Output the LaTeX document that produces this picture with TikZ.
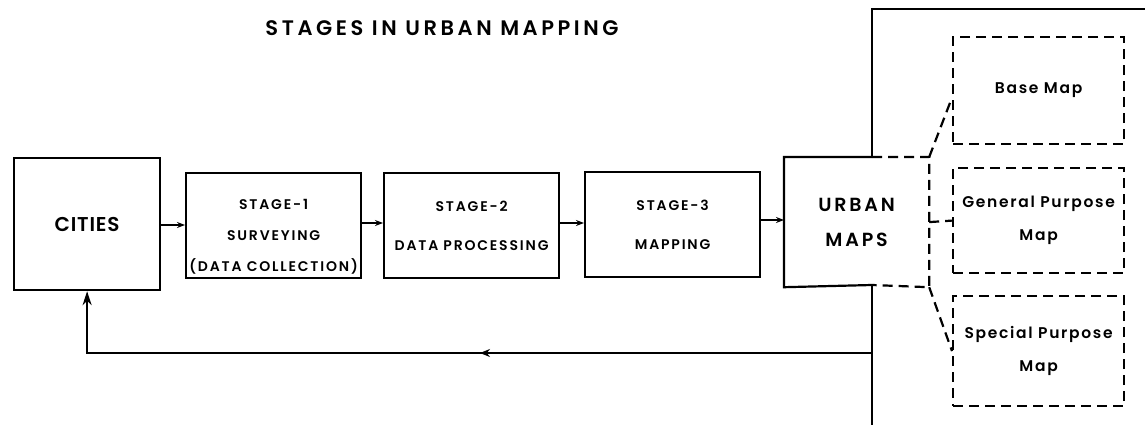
\documentclass[tikz,border=0pt]{standalone}
\usepackage{fontspec}
\setmainfont{Poppins}[UprightFont=* SemiBold,BoldFont=* Bold]
\usetikzlibrary{arrows.meta,decorations.markings}

\begin{document}
\begin{tikzpicture}[x=1pt,y=-1pt,line width=2.2pt,
  box/.style={draw,inner sep=0pt,anchor=north west,align=center},
  stagebox/.style={box,minimum width=175pt,minimum height=105pt,
    font={\fontsize{14}{39}\selectfont\addfontfeatures{LetterSpace=13}}},
  mapbox/.style={box,dash pattern=on 10pt off 6pt,minimum width=171pt,
    font={\fontsize{15.5}{33}\selectfont\addfontfeatures{LetterSpace=11}}},
  flow/.style={-{Stealth[length=8pt,width=6pt]}}]
  \useasboundingbox (0,0) rectangle (1145,425);
  \node[font={\fontsize{21}{24}\selectfont\addfontfeatures{LetterSpace=17}}] (title) at (442,28) {STAGES IN URBAN MAPPING};
  % main row
  \node[box,minimum width=146pt,minimum height=132pt,
    font={\fontsize{20}{24}\selectfont\addfontfeatures{LetterSpace=4}}] (cities) at (13,157) {CITIES};
  \node[stagebox] (stage1) at (185,172) {};
  \node[font={\fontsize{14}{31}\selectfont\addfontfeatures{LetterSpace=13}},align=center] (stage1text)
    at ([yshift=-11pt]stage1.center) {STAGE-1\\SURVEYING\\(DATA COLLECTION)};
  \node[stagebox] (stage2) at (383,172) {STAGE-2\\DATA PROCESSING};
  \node[stagebox] (stage3) at (584,171) {STAGE-3\\MAPPING};
  \node[inner sep=0pt,anchor=north west,minimum width=143pt,minimum height=128pt,align=center,
    font={\fontsize{19}{35}\selectfont\addfontfeatures{LetterSpace=15}}] (urban) at (784,157) {URBAN\\MAPS};
  \coordinate (ut) at (872,157);
  \coordinate (ub) at (872,285);
  \draw (ut) -- (urban.north west) -- (urban.south west) -- (ub);
  \draw[dash pattern=on 10pt off 6pt] (ut) -- (urban.north east) -- (urban.south east) -- (ub);
  % frame line
  \coordinate (ftop) at (872,9);
  \coordinate (fbot) at (872,425);
  \draw (ut) -- (ftop) -- (1145,9);
  \draw (ub) -- (fbot);
  % map types
  \node[mapbox,minimum height=107pt] (base) at (952,36) {Base Map};
  \node[mapbox,minimum height=105pt] (general) at (952,167) {General Purpose\\Map};
  \node[mapbox,minimum height=110pt] (special) at (952,295) {Special Purpose\\Map};
  \draw[dash pattern=on 10pt off 6pt] (urban.north east) -- ([yshift=-7pt]base.west);
  \draw[dash pattern=on 10pt off 6pt] (urban.east) -- (general.west);
  \draw[dash pattern=on 10pt off 6pt] (urban.south east) -- (special.west);
  % arrows
  \draw[flow] (cities.east |- 0,225) -- (stage1.west |- 0,225);
  \draw[flow] (stage1.east |- 0,223) -- (stage2.west |- 0,223);
  \draw[flow] (stage2.east |- 0,223) -- (stage3.west |- 0,223);
  \draw[flow] (stage3.east |- 0,220) -- (urban.west |- 0,220);
  % feedback
  \coordinate (fb) at (872,353);
  \draw[-{Stealth[length=14pt,width=9pt]},
    postaction={decorate,decoration={markings,mark=at position 392pt with {\arrow{Stealth[length=10pt,width=8pt]}}}}]
    (fb) -| (cities.south);
\end{tikzpicture}
\end{document}
